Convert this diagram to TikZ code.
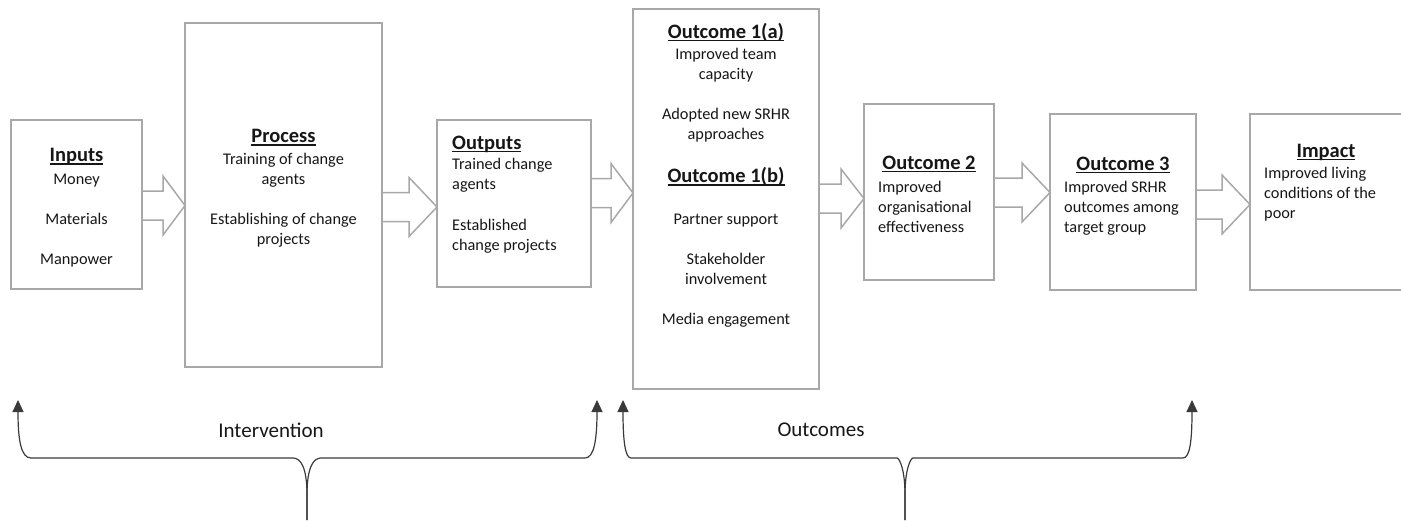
\documentclass[tikz,border=0pt]{standalone}
\usepackage{fontspec}
\setmainfont{Carlito}
\usetikzlibrary{arrows.meta,calc}
\definecolor{boxgray}{HTML}{A8A8A8}
\definecolor{txt}{HTML}{161616}
\definecolor{brk}{HTML}{3A3A3A}
\newcommand\titul[1]{\setbox0=\hbox{#1}\rlap{\rule[-3pt]{\wd0}{1.4pt}}\box0}
\newcommand\ttl[1]{\titul{\bfseries #1}}
\newcommand\st{\rule{0pt}{13pt}}
\newcommand\blockarr[4]{%
  \path[blockarrow] let \p1=(#1.east), \p2=(#2.west) in
    (\x1,#3-14.5) -- (#4,#3-14.5) -- (#4,#3-29.5) -- (\x2,#3)
    -- (#4,#3+29.5) -- (#4,#3+14.5) -- (\x1,#3+14.5);}
\begin{document}
\begin{tikzpicture}[x=1pt,y=-1pt,
  box/.style={draw=boxgray,line width=1.5pt,inner sep=0pt,outer sep=0pt},
  blockarrow/.style={draw=boxgray,line width=1.5pt,line join=miter},
  ttlnode/.style={inner sep=0pt,anchor=base,text=txt,font=\fontsize{20.5}{24}\selectfont},
  bodyc/.style={inner sep=0pt,anchor=north,align=center,text=txt,font=\fontsize{16.3}{20}\selectfont},
  bodyl/.style={inner sep=0pt,anchor=north west,align=left,text=txt,font=\fontsize{16.3}{20}\selectfont},
  brace/.style={draw=brk,line width=1.2pt},
  bracetip/.style={brace,-{Triangle[width=11pt,length=12pt]}},
  label/.style={inner sep=0pt,text=txt,font=\fontsize{21}{25}\selectfont}]
\useasboundingbox (0,0) rectangle (1401,520);

% boxes
\node[box,minimum width=131pt,minimum height=169pt] (inputs) at (76.5,204.5) {};
\node[box,minimum width=197pt,minimum height=344pt] (process) at (283.5,195) {};
\node[box,minimum width=154pt,minimum height=167pt] (outputs) at (514,203.5) {};
\node[box,minimum width=186pt,minimum height=380pt] (out1) at (726,199) {};
\node[box,minimum width=130pt,minimum height=176pt] (out2) at (929,192) {};
\node[box,minimum width=146pt,minimum height=176pt] (out3) at (1123,202) {};
\node[box,minimum width=153pt,minimum height=176pt] (impact) at (1326.5,202) {};

% block arrows
\blockarr{inputs}{process}{205.5}{163}
\blockarr{process}{outputs}{207}{409}
\blockarr{outputs}{out1}{193}{611}
\blockarr{out1}{out2}{198.5}{841}
\blockarr{out2}{out3}{192.5}{1022}
\blockarr{out3}{impact}{204.5}{1222}

% texts
\node[ttlnode] (tinputs) at (76.5,161.5) {\ttl{Inputs}};
\node[bodyc] (binputs) at (76.5,171) {\st Money\\[20pt]Materials\\[20pt]Manpower};

\node[ttlnode] (tprocess) at (283.5,142.7) {\ttl{Process}};
\node[bodyc] (bprocess) at (283.5,151) {\st Training of change\\agents\\[20pt]Establishing of change\\projects};

\node[ttlnode,anchor=base west] (toutputs) at (452,149) {\ttl{Outputs}};
\node[bodyl] (boutputs) at (452,156) {\st Trained change\\agents\\[21pt]Established\\change projects};

\node[ttlnode] (tout1a) at (726,38.3) {\ttl{Outcome 1(a)}};
\node[bodyc] (bout1a) at (726,46) {\st Improved team\\capacity\\[20pt]Adopted new SRHR\\approaches};
\node[ttlnode] (tout1b) at (726,182.7) {\ttl{Outcome 1(b)}};
\node[bodyc] (bout1b) at (726,211) {\st Partner support\\[20pt]Stakeholder\\involvement\\[20pt]Media engagement};

\node[ttlnode] (tout2) at (929,169.3) {\ttl{Outcome 2}};
\node[bodyl] (bout2) at (878,179) {\st Improved\\organisational\\effectiveness};

\node[ttlnode] (tout3) at (1123,170) {\ttl{Outcome 3}};
\node[bodyl] (bout3) at (1064,179) {\st Improved SRHR\\outcomes among\\target group};

\node[ttlnode] (timpact) at (1326,157.3) {\ttl{Impact}};
\node[bodyl] (bimpact) at (1264,165) {\st Improved living\\conditions of the\\poor};

% brackets
\coordinate (ib) at (307,520);
\coordinate (il) at (18,400);
\coordinate (ir) at (597,400);
\coordinate (ob) at (905,520);
\coordinate (ol) at (623,400);
\coordinate (or) at (1192,400);

\draw[bracetip] (ib) -- (307,495) .. controls (307,468) and (301,458) .. (293,458)
  -- (31,458) .. controls (21,458) and (18,440) .. (il);
\draw[bracetip] (ib) -- (307,495) .. controls (307,468) and (313,458) .. (321,458)
  -- (585,458) .. controls (594,458) and (597,440) .. (ir);
\draw[bracetip] (ob) -- (905,495) .. controls (905,468) and (899,458) .. (897,458)
  -- (631,458) .. controls (625,458) and (623,440) .. (ol);
\draw[bracetip] (ob) -- (905,495) .. controls (905,468) and (911,458) .. (913,458)
  -- (1183,458) .. controls (1190,458) and (1192,440) .. (or);

\node[label] (lint) at (271,430) {Intervention};
\node[label] (lout) at (821,430) {Outcomes};
\end{tikzpicture}
\end{document}
